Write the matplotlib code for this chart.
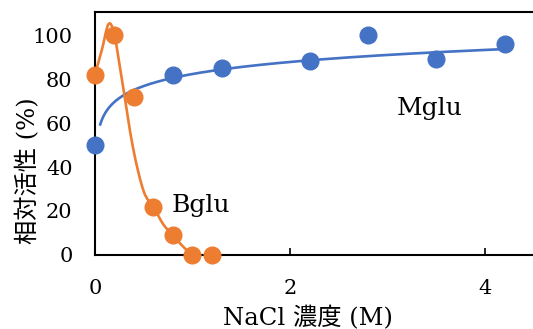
import numpy as np
import matplotlib
matplotlib.use('Agg')
import matplotlib.pyplot as plt
from matplotlib.path import Path
from matplotlib.patches import PathPatch

plt.rcParams['font.family'] = ['DejaVu Serif', 'Noto Sans CJK JP']

# Mglu (blue) measured points
mglu_x = [0, 0.8, 1.3, 2.2, 2.8, 3.5, 4.2]
mglu_y = [50, 82, 85, 88, 100, 89, 96]
# log trendline y = a + b*ln(x)
mglu_fit_a = 82.3
mglu_fit_b = 7.9
mglu_fit_start = 0.055
mglu_fit_end = 4.2

# Bglu (orange) measured points
bglu_x = [0, 0.2, 0.4, 0.6, 0.8, 1.0, 1.2]
bglu_y = [82, 100, 72, 22, 9, 0, 0]
# knots of the smoothed Bglu line as drawn in the picture
bglu_line_x = [0, 0.07, 0.14, 0.2, 0.28, 0.39, 0.5, 0.6, 0.7, 0.8, 0.9, 1.0, 1.09, 1.2]
bglu_line_y = [82, 93, 105, 100, 79, 49, 29, 22, 14, 9, 4, 0, -2, 0]

x_ticks = [0, 2, 4]
y_ticks = [0, 20, 40, 60, 80, 100]

blue = '#4472C4'
orange = '#ED7D31'


def smooth_path(xs, ys):
    # catmull-rom style bezier through the knots
    pts = np.column_stack([xs, ys]).astype(float)
    pad = np.vstack([pts[0], pts, pts[-1]])
    verts = [pts[0]]
    codes = [Path.MOVETO]
    for i in range(len(pts) - 1):
        p0, p1, p2, p3 = pad[i], pad[i + 1], pad[i + 2], pad[i + 3]
        verts += [p1 + (p2 - p0) / 6, p2 - (p3 - p1) / 6, p2]
        codes += [Path.CURVE4] * 3
    return Path(verts, codes)


fig = plt.figure(figsize=(5.33, 3.29), dpi=100)
ax = fig.add_axes([0.178, 0.225, 0.822, 0.7385])

# trendline for Mglu
fx = np.geomspace(mglu_fit_start, mglu_fit_end, 200)
ax.plot(fx, mglu_fit_a + mglu_fit_b * np.log(fx), color=blue, lw=1.9, zorder=2)

# smoothed line for Bglu
ax.add_patch(PathPatch(smooth_path(bglu_line_x, bglu_line_y), facecolor='none',
                       edgecolor=orange, lw=1.9, zorder=2))

ax.plot(mglu_x, mglu_y, 'o', color=blue, ms=12, zorder=3, clip_on=False)
ax.plot(bglu_x, bglu_y, 'o', color=orange, ms=12, zorder=3, clip_on=False)

ax.text(0.786, 19.7, 'Bglu', fontsize=18)
ax.text(3.09, 63.6, 'Mglu', fontsize=18)

ax.set_xlim(0, 4.49)
ax.set_ylim(0, 110.5)
ax.set_xticks(x_ticks)
ax.set_yticks(y_ticks)
ax.tick_params(axis='x', direction='in', length=5, width=1.2, pad=17, labelsize=15)
ax.tick_params(axis='y', length=0, pad=16, labelsize=15)

for side in ['left', 'bottom', 'top']:
    ax.spines[side].set_linewidth(1.5)
ax.spines['right'].set_visible(False)

ax.set_xlabel('NaCl 濃度 (M)', fontsize=17.5, va='center')
ax.xaxis.set_label_coords(0.486, -0.258)
ax.set_ylabel('相対活性 (%)', fontsize=17.5, va='center', ha='center')
ax.yaxis.set_label_coords(-0.152, 0.346)

fig.savefig('out.png', dpi=100)
